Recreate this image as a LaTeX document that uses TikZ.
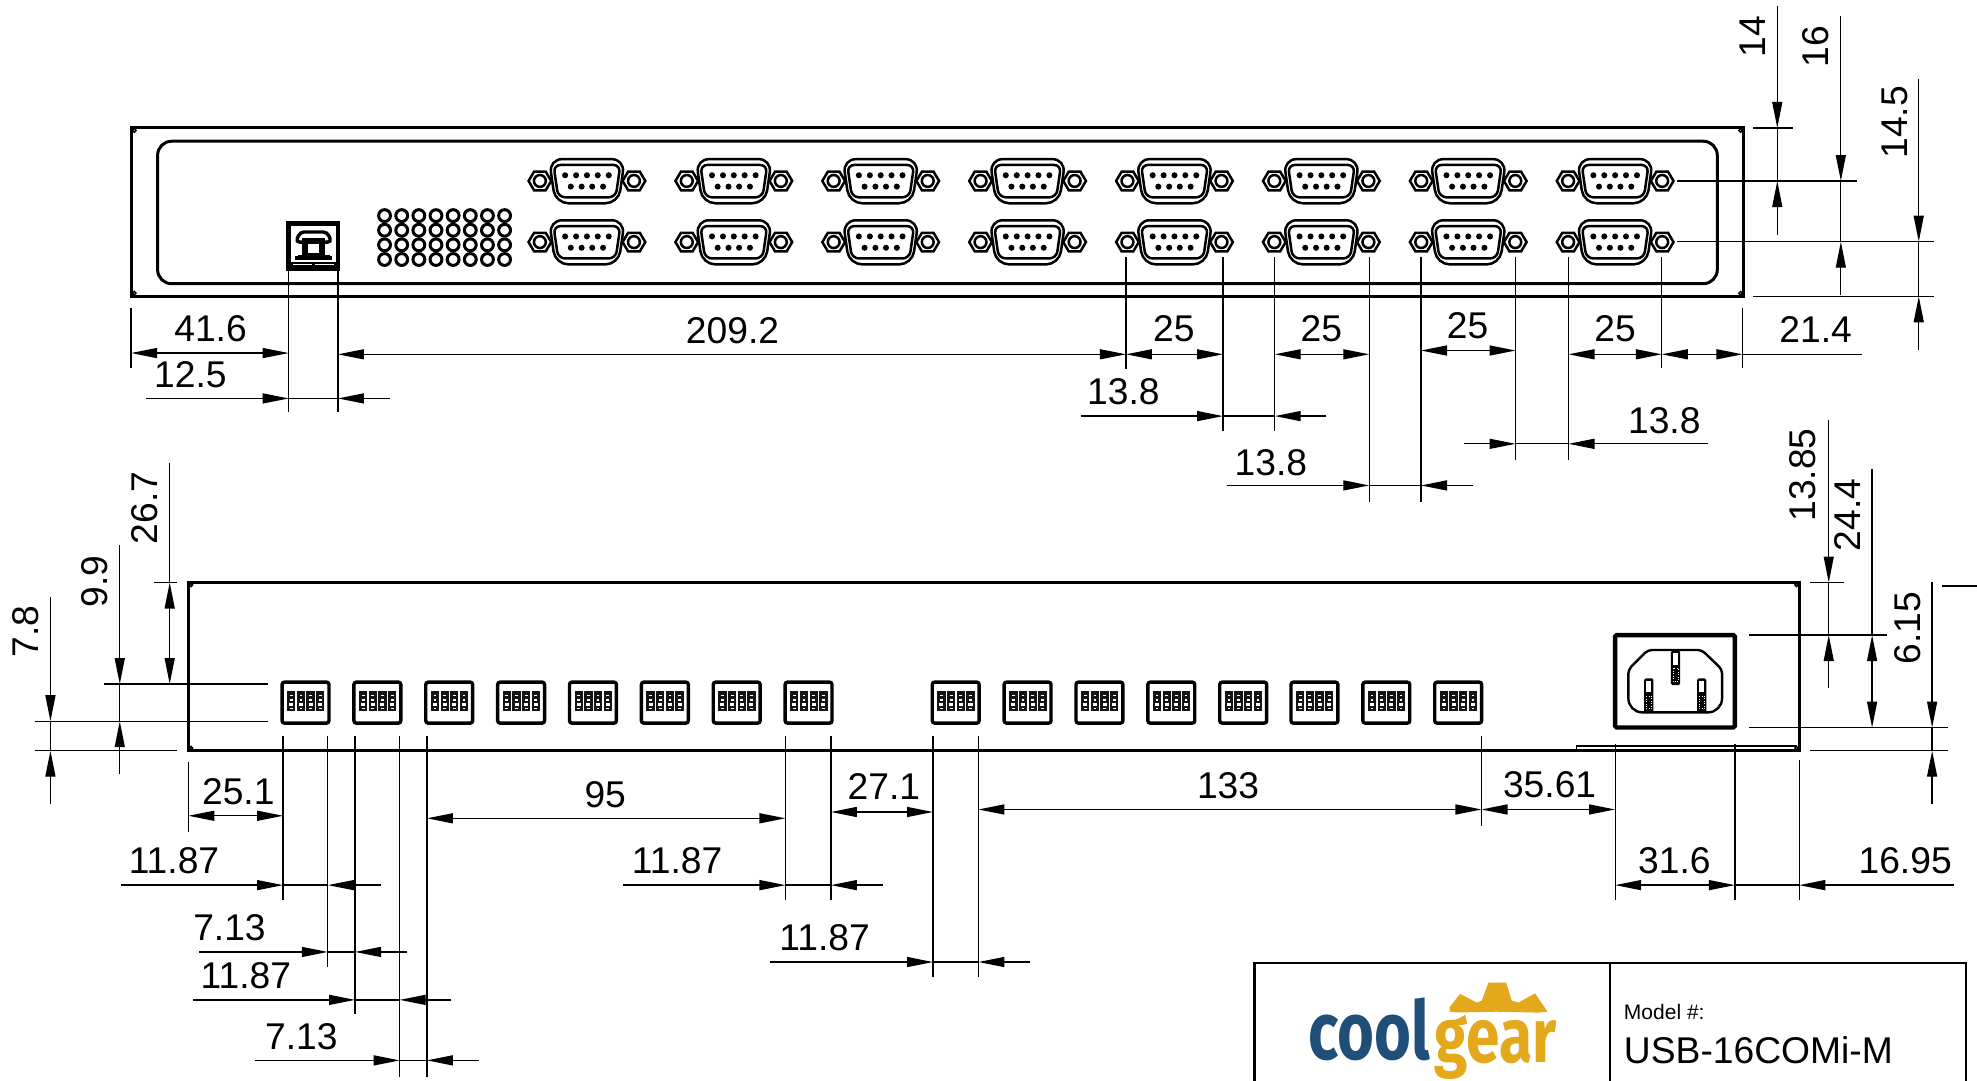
\documentclass[tikz,border=0pt]{standalone}
\usepackage{fontspec}
\setmainfont{Liberation Sans}
\newfontfamily\logofont{Fira Sans}
\usetikzlibrary{arrows.meta}
\definecolor{gearGold}{HTML}{E3A81C}
\definecolor{coolNavy}{HTML}{1F4E79}
\tikzset{
  dimline/.style={line width=.65pt,black},
  ah/.style={dimline,-{Triangle[length=13pt,width=5pt]}},
  aa/.style={dimline,{Triangle[length=13pt,width=5pt]}-{Triangle[length=13pt,width=5pt]}},
  lbl/.style={font=\fontsize{18.6pt}{20pt}\selectfont,inner sep=0,outer sep=0,anchor=center},
  lblr/.style={lbl,rotate=90},
  panel/.style={line width=1.5pt,black},
  part/.style={line width=1.25pt,black},
  hole/.style={line width=1.5pt,black},
}
\newcommand{\nutshape}[2]{%
  \draw[part,fill=white] (#1-9,#2) -- (#1-4.6,#2-7.4) -- (#1+4.6,#2-7.4) -- (#1+9,#2) -- (#1+4.6,#2+7.4) -- (#1-4.6,#2+7.4) -- cycle;
  \draw[part,fill=white] (#1,#2) circle (4.7);
}
\newcommand{\dbnine}[2]{%
  \nutshape{#1-37.3}{#2}
  \nutshape{#1+37.3}{#2}
  \draw[part,fill=white,rounded corners=6.5] (#1-30,#2-17.3) -- (#1+30,#2-17.3) -- (#1+25,#2+17.7) -- (#1-25,#2+17.7) -- cycle;
  \draw[part,rounded corners=3.5] (#1-26.5,#2-12.7) -- (#1+26.5,#2-12.7) -- (#1+22.8,#2+13) -- (#1-22.8,#2+13) -- cycle;
  \foreach \dx in {-17.3,-8.6,0,8.6,17.3} {\fill (#1+\dx,#2-4.5) circle (2.4);}
  \foreach \dx in {-12.8,-4.2,4.2,12.8} {\fill (#1+\dx,#2+4.5) circle (2.4);}
}
\newcommand{\dipsw}[1]{%
  \draw[line width=1.7pt,rounded corners=1.2] (#1-18.6,541) rectangle (#1+18.6,573.5);
  \foreach \k in {0,1,2,3} {
    \fill[black!92] ({#1-14.6+7.67*\k},547.8) rectangle ({#1-8+7.67*\k},564);
    \foreach \yy in {551.3,555.2,561.8} {\fill[white] ({#1-12.4+7.67*\k},\yy-.45) rectangle ({#1-10.2+7.67*\k},\yy+.45);}
    \fill[white] ({#1-12.9+7.67*\k},557.6) rectangle ({#1-9.7+7.67*\k},559.6);
  }
}
\newcommand{\iecpin}[3]{%
  \fill[black,rounded corners=.8] (#1,#2) rectangle (#1+7.4,#3);
  \fill[white] (#1+1.6,#2+2) rectangle (#1+5.8,#2+11.2);
  \draw[white,line width=.25pt,densely dotted] (#1+1.6,#2+14) rectangle (#1+5.8,#3-3);
}
\begin{document}
\begin{tikzpicture}[x=.63pt,y=-.63pt]
\useasboundingbox (0,0) rectangle (1568,856.6);

% ---- top panel
\draw[panel] (104,101) rectangle (1383,235);
\draw[panel,rounded corners=7] (125,112) rectangle (1362,225);
\foreach \px/\py in {106.5/103.5,106.5/232.5,1380.5/103.5,1380.5/232.5}
  {\draw[line width=.7pt] (\px,\py) circle (1.4);}

% USB port
\draw[line width=2.4pt,fill=white] (229,177) rectangle (268,213);
\draw[line width=1.7pt,rounded corners=2] (234.5,192) -- (238,184) -- (259.5,184) -- (263,192) -- cycle;
\draw[line width=2.8pt] (242,191) rectangle (255.5,203);
\draw[line width=2pt] (234,204.5) -- (263.5,204.5);
\fill (236,202) rectangle (261.5,205.5);
\fill (229,207.6) rectangle (268,213);
\draw[white,line width=.6pt] (232,209.5) -- (247.5,209.5) (249.5,209.5) -- (265,209.5);

% vent holes
\foreach \cc in {0,...,7} {
  \foreach \rr in {0,...,3} {
    \draw[hole] ({305+13.6*\cc},{171+11.6*\rr}) circle (4.7);
  }
}

% DB9 connectors
\foreach \k in {0,...,7} {
  \dbnine{465.5+116.5*\k}{143.5}
  \dbnine{465.5+116.5*\k}{192}
}

% ---- top panel dimensions
\draw[dimline] (104,244) -- (104,292);
\draw[dimline] (229,214) -- (229,327);
\draw[dimline] (268,214) -- (268,327);
\draw[aa] (104,280) -- (229,280);
\node[lbl] (t416) at (167,261) {41.6};
\draw[ah] (116,316) -- (229,316);
\draw[dimline] (229,316) -- (268,316);
\draw[ah] (309,316) -- (268,316);
\node[lbl] (t125) at (151,297) {12.5};
\draw[aa] (268,281) -- (893,281);
\node[lbl] (t2092) at (581,262) {209.2};
\draw[dimline] (893,203.5) -- (893,293);
\draw[dimline] (970,203.5) -- (970,342);
\draw[dimline] (1011,203.5) -- (1011,342);
\draw[dimline] (1086,203.5) -- (1086,398);
\draw[dimline] (1127,203.5) -- (1127,398);
\draw[dimline] (1202,203.5) -- (1202,365);
\draw[dimline] (1244,203.5) -- (1244,365);
\draw[dimline] (1318,203.5) -- (1318,292);
\draw[dimline] (1382,244) -- (1382,292);
\draw[aa] (893,281) -- (970,281);
\node[lbl] (t25a) at (931,261) {25};
\draw[aa] (1011,281) -- (1086,281);
\node[lbl] (t25b) at (1048,261) {25};
\draw[aa] (1127,278) -- (1202,278);
\node[lbl] (t25c) at (1164,258) {25};
\draw[aa] (1244,281) -- (1318,281);
\node[lbl] (t25d) at (1281,261) {25};
\draw[aa] (1318,281) -- (1382,281);
\draw[dimline] (1382,281) -- (1477,281);
\node[lbl] (t214) at (1440,261) {21.4};
\draw[ah] (857,330) -- (970,330);
\draw[dimline] (970,330) -- (1011,330);
\draw[ah] (1052,330) -- (1011,330);
\node[lbl] (t138a) at (891,311) {13.8};
\draw[ah] (973,385) -- (1086,385);
\draw[dimline] (1086,385) -- (1127,385);
\draw[ah] (1168,385) -- (1127,385);
\node[lbl] (t138b) at (1008,367) {13.8};
\draw[ah] (1161,352) -- (1202,352);
\draw[dimline] (1202,352) -- (1244,352);
\draw[ah] (1355,352) -- (1244,352);
\node[lbl] (t138c) at (1320,334) {13.8};

% right of top panel
\draw[dimline] (1390.6,101.5) -- (1422,101.5);
\draw[dimline] (1330,143.6) -- (1472.6,143.6);
\draw[dimline] (1330,191.7) -- (1534,191.7);
\draw[dimline] (1390.6,235) -- (1534,235);
\draw[ah] (1409.6,4.5) -- (1409.6,101.5);
\draw[dimline] (1409.6,101.5) -- (1409.6,143.6);
\draw[ah] (1409.6,186) -- (1409.6,143.6);
\node[lblr] (t14) at (1390,29) {14};
\draw[ah] (1460,13) -- (1460,143.6);
\draw[dimline] (1460,143.6) -- (1460,191.7);
\draw[ah] (1460,234) -- (1460,191.7);
\node[lblr] (t16) at (1440,37) {16};
\draw[ah] (1521.8,62.7) -- (1521.8,191.7);
\draw[dimline] (1521.8,191.7) -- (1521.8,235);
\draw[ah] (1521.8,277.6) -- (1521.8,235);
\node[lblr] (t145) at (1502.5,97) {14.5};

% ---- bottom panel
\draw[panel] (149.4,462) rectangle (1427,595.4);
\foreach \px/\py in {151.5/464,151.5/593.2,1424.8/464,1424.8/593.2}
  {\draw[line width=.7pt] (\px,\py) circle (1.3);}
\draw[line width=.8pt] (1250.5,595) -- (1250.5,591.8) -- (1425,591.8);

% DIP switches
\foreach \cx in {242.3,299.3,356.3,413.3,470.3,527.3,584.3,641.3,758,815,872,929,986,1042.5,1099.5,1156.5}
  {\dipsw{\cx}}

% power socket
\draw[line width=2.2pt,rounded corners=.8] (1281,503.7) rectangle (1376,577);
\draw[line width=1.2pt,rounded corners=2] (1291.5,545) -- (1291.5,531) -- (1307,515.5) -- (1349.7,515.5) -- (1365.8,531) -- (1365.8,545);
\draw[line width=1.2pt,rounded corners=7] (1291.5,545) -- (1291.5,565) -- (1365.8,565) -- (1365.8,545);
\iecpin{1325.2}{516}{543.4}
\iecpin{1304}{538}{565}
\iecpin{1346}{538}{565}

% ---- left of bottom panel
\draw[dimline] (122.5,462) -- (140,462);
\draw[dimline] (82.5,542.5) -- (212.8,542.5);
\draw[dimline] (28,572) -- (212.8,572);
\draw[dimline] (28,595.4) -- (140,595.4);
\draw[aa] (134.6,462) -- (134.6,542.5);
\draw[dimline] (134.6,367) -- (134.6,462);
\node[lblr] (b267) at (115,403) {26.7};
\draw[ah] (95,432.6) -- (95,542.5);
\draw[dimline] (95,542.5) -- (95,572);
\draw[ah] (95,614) -- (95,572);
\node[lblr] (b99) at (75,461) {9.9};
\draw[ah] (40,473.5) -- (40,572);
\draw[dimline] (40,572) -- (40,595.4);
\draw[ah] (40,637.7) -- (40,595.4);
\node[lblr] (b78) at (20.6,501) {7.8};

% ---- right of bottom panel
\draw[dimline] (1435.6,462) -- (1462.7,462);
\draw[dimline] (1387.5,503.7) -- (1497,503.7);
\draw[dimline] (1387.5,577) -- (1544.8,577);
\draw[dimline] (1435.6,595.4) -- (1544.8,595.4);
\draw[ah] (1450.4,333) -- (1450.4,462);
\draw[dimline] (1450.4,462) -- (1450.4,503.7);
\draw[ah] (1450.4,545.7) -- (1450.4,503.7);
\node[lblr] (b1385) at (1430,376.8) {13.85};
\draw[aa] (1484.8,503.7) -- (1484.8,577);
\draw[dimline] (1484.8,372) -- (1484.8,503.7);
\node[lblr] (b244) at (1465,408.5) {24.4};
\draw[ah] (1532.4,461.5) -- (1532.4,577);
\draw[dimline] (1532.4,577) -- (1532.4,595.4);
\draw[ah] (1532.4,637.7) -- (1532.4,595.4);
\node[lblr] (b615) at (1513,498) {6.15};
\draw[line width=1pt] (1540,464.6) -- (1568,464.6);

% ---- below bottom panel
\draw[dimline] (149.4,604) -- (149.4,660);
\draw[dimline] (224.5,584) -- (224.5,714);
\draw[dimline] (260,584) -- (260,767);
\draw[dimline] (281.6,584) -- (281.6,804);
\draw[dimline] (317,584) -- (317,854);
\draw[dimline] (338.6,584) -- (338.6,854);
\draw[dimline] (623,584) -- (623,714);
\draw[dimline] (659,584) -- (659,714);
\draw[dimline] (740,584) -- (740,775);
\draw[dimline] (776,584) -- (776,775);
\draw[dimline] (1175,584) -- (1175,655);
\draw[dimline] (1281,590) -- (1281,714);
\draw[dimline] (1376,590) -- (1376,714);
\draw[dimline] (1427,603) -- (1427,714);

\draw[aa] (149.4,647) -- (224.5,647);
\node[lbl] (d251) at (189,628) {25.1};
\draw[ah] (96,702) -- (224.5,702);
\draw[dimline] (224.5,702) -- (260,702);
\draw[ah] (302,702) -- (260,702);
\node[lbl] (d1187a) at (138,683) {11.87};
\draw[ah] (158,755) -- (260,755);
\draw[dimline] (260,755) -- (281.6,755);
\draw[ah] (323,755) -- (281.6,755);
\node[lbl] (d713a) at (182,736) {7.13};
\draw[ah] (153,793) -- (281.6,793);
\draw[dimline] (281.6,793) -- (317,793);
\draw[ah] (358,793) -- (317,793);
\node[lbl] (d1187b) at (195,774) {11.87};
\draw[ah] (202,841) -- (317,841);
\draw[dimline] (317,841) -- (338.6,841);
\draw[ah] (380,841) -- (338.6,841);
\node[lbl] (d713b) at (239,822) {7.13};
\draw[aa] (338.6,649) -- (623,649);
\node[lbl] (d95) at (480,630) {95};
\draw[ah] (494,702) -- (623,702);
\draw[dimline] (623,702) -- (659,702);
\draw[ah] (700,702) -- (659,702);
\node[lbl] (d1187c) at (537,683) {11.87};
\draw[aa] (659,644) -- (740,644);
\node[lbl] (d271) at (701,624) {27.1};
\draw[ah] (611,763) -- (740,763);
\draw[dimline] (740,763) -- (776,763);
\draw[ah] (817,763) -- (776,763);
\node[lbl] (d1187d) at (654,744) {11.87};
\draw[aa] (776,642) -- (1175,642);
\node[lbl] (d133) at (974,623) {133};
\draw[aa] (1175,642) -- (1281,642);
\node[lbl] (d3561) at (1229,622) {35.61};
\draw[aa] (1281,702) -- (1376,702);
\node[lbl] (d316) at (1328,683) {31.6};
\draw[dimline] (1376,702) -- (1427,702);
\draw[ah] (1550,702) -- (1427,702);
\node[lbl] (d1695) at (1511,683) {16.95};

% ---- title block
\draw[line width=1.1pt] (995,857) -- (995,764) -- (1559,764) -- (1559,857);
\draw[line width=1.1pt] (1277,764) -- (1277,857);
\node[inner sep=0,outer sep=0,anchor=west,font=\fontsize{10.5pt}{12pt}\selectfont] (model) at (1288,803) {Model \#:};
\node[inner sep=0,outer sep=0,anchor=west,font=\fontsize{18.6pt}{20pt}\selectfont] (usb) at (1288,833) {USB-16COMi-M};

% logo
\fill[gearGold] (1149.6,798.9) -- (1158,788.3) -- (1171.3,795.2) -- (1175.2,793.6) -- (1180.5,779.3) -- (1194.5,779.3) -- (1199,793.6) -- (1204.3,795.2) -- (1217.5,787.8) -- (1227.3,802.4) -- (1220.2,803.1) -- (1187,802.4) -- (1155.4,803) -- (1150,802.4) -- cycle;
\node[inner sep=0,outer sep=0,anchor=north west,text=coolNavy] (cool) at (1037.7,791)
  {\resizebox*{60.8pt}{31.5pt}{\logofont\bfseries cool}};
\node[inner sep=0,outer sep=0,anchor=north west,text=gearGold] (gear) at (1138,805)
  {\resizebox*{61pt}{32.2pt}{\logofont\bfseries gear}};
\end{tikzpicture}
\end{document}
